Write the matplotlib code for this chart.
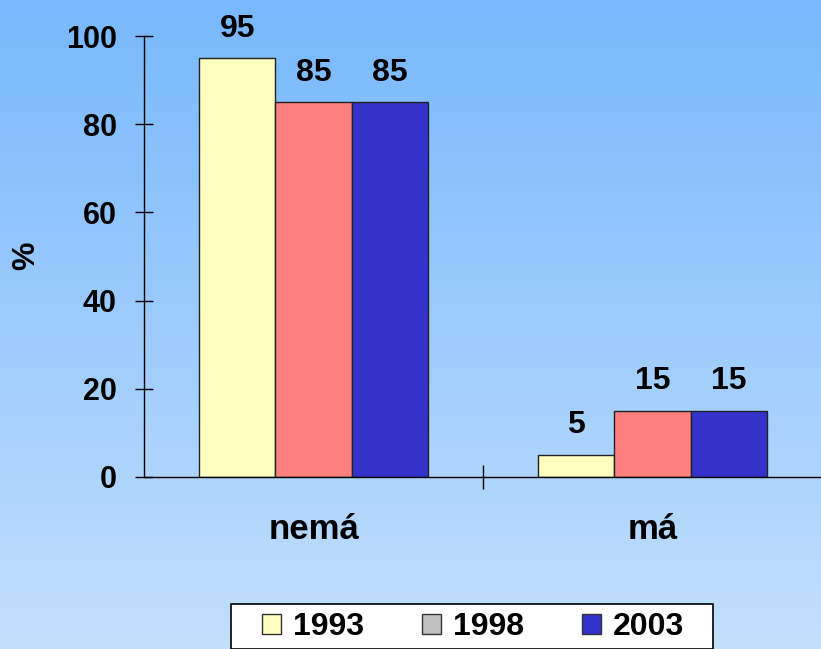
import numpy as np
import matplotlib
matplotlib.use("Agg")
import matplotlib.pyplot as plt
from matplotlib.patches import Patch, Rectangle

plt.rcParams['font.family'] = ['Liberation Sans', 'DejaVu Sans']
plt.rcParams['font.weight'] = 'bold'

# data
categories = ['nemá', 'má']
years = ['1993', '1998', '2003']
values_1993 = [95, 5]
values_1998 = [85, 15]
values_2003 = [85, 15]
bar_colors = ['#ffffc0', '#ff8080', '#3333cc']
legend_colors = ['#ffffc0', '#c0c0c0', '#3333cc']

W, H = 821, 649
fig = plt.figure(figsize=(W / 100, H / 100), dpi=100)

# gradient background across the whole figure
bg = fig.add_axes([0, 0, 1, 1], zorder=-10)
top = np.array([120, 184, 252]) / 255
bottom = np.array([194, 223, 253]) / 255
t = np.linspace(0, 1, 256)[:, None]
grad = top * (1 - t) + bottom * t
bg.imshow(grad[:, None, :], aspect='auto', extent=[0, 1, 0, 1])
bg.axis('off')

ax = fig.add_axes([144 / W, 172 / H, 678 / W, 441 / H])
ax.patch.set_alpha(0)

fs = 23
x = np.arange(len(categories))
w = 0.225
series = [values_1993, values_1998, values_2003]
for i, vals in enumerate(series):
    pos = x + (i - 1) * w
    ax.bar(pos, vals, width=w, color=bar_colors[i], edgecolor='#222222', linewidth=1)
    for p, v in zip(pos, vals):
        ax.annotate(str(v), (p, v), xytext=(0, 15.5), textcoords='offset points',
                    ha='center', va='baseline', fontsize=fs, fontweight='bold')

ax.set_xlim(-0.5, 1.5)
ax.set_ylim(0, 100)
ax.set_yticks([0, 20, 40, 60, 80, 100])
ax.tick_params(axis='y', direction='inout', length=13, width=1, pad=13,
               labelsize=22)
ax.set_xticks([0.5])
ax.set_xticklabels([])
ax.tick_params(axis='x', which='major', direction='inout', length=17, width=1)
ax.set_xticks(x, minor=True)
ax.set_xticklabels(categories, minor=True, fontsize=25, fontweight='bold')
ax.tick_params(axis='x', which='minor', length=0, pad=26)
for lab in ax.get_yticklabels():
    lab.set_fontweight('bold')

for s in ['top', 'right']:
    ax.spines[s].set_visible(False)
ax.spines['left'].set_linewidth(1)
ax.spines['bottom'].set_linewidth(1)

fig.text(26 / W, 1 - 256 / H, '%', rotation=90, ha='center', va='center',
         fontsize=fs, fontweight='bold')

# legend box drawn separately, legend entries without a frame
fig.patches.append(Rectangle((231 / W, 0), 482 / W, 45 / H, transform=fig.transFigure,
                             facecolor='white', edgecolor='black', linewidth=1.2,
                             zorder=1))
handles = [Patch(facecolor=c, edgecolor='#333333', linewidth=1) for c in legend_colors]
leg = fig.legend(handles, years, ncol=3, loc='center',
                 bbox_to_anchor=(473 / W, 1 - 627 / H), frameon=False,
                 prop={'size': fs, 'weight': 'bold'}, handlelength=0.6,
                 handleheight=0.6, handletextpad=0.375, columnspacing=1.8,
                 borderpad=0, borderaxespad=0)
leg.set_zorder(2)

fig.savefig('out.png', dpi=100)
